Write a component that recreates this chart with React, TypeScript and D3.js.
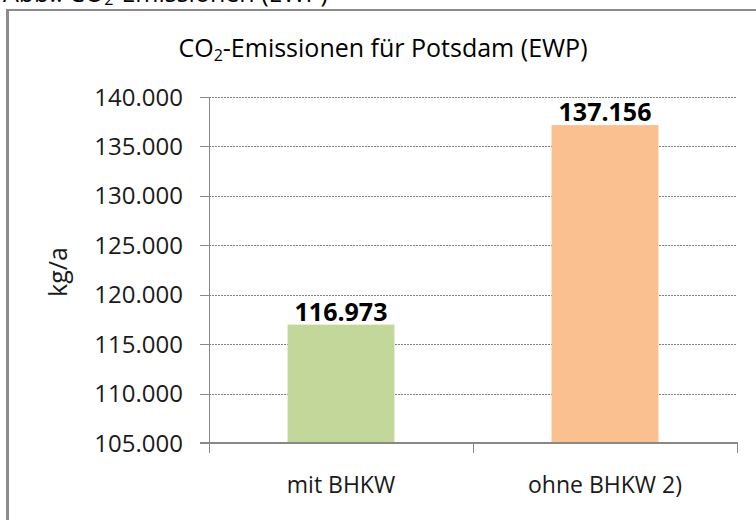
import React from 'react';
import * as d3 from 'd3';

const categories = ["mit BHKW", "ohne BHKW 2)"];
const values = [116973, 137156];
const barColors = ["#c4d79b", "#fac090"];
const yTicks = [105000, 110000, 115000, 120000, 125000, 130000, 135000, 140000];

const W = 756, H = 520;
const plot = { left: 209, right: 737, top: 97, bottom: 443 };
const font = "'Open Sans', sans-serif";

const de = d3.formatLocale({ decimal: ",", thousands: ".", grouping: [3], currency: ["", " €"] });
const fmt = de.format(",d");

const App = () => {
    const x = d3.scaleBand<string>()
        .domain(categories)
        .range([plot.left, plot.right])
        .paddingInner(0.595)
        .paddingOuter(0.2975);

    const y = d3.scaleLinear()
        .domain([105000, 140000])
        .range([plot.bottom, plot.top]);

    // category boundaries for the x-axis ticks
    const xBounds = d3.range(categories.length + 1).map((i) => plot.left + i * (plot.right - plot.left) / categories.length);

    return (
        <svg width={W} height={H} style={{ position: 'absolute', left: 0, top: 0, background: '#fff' }}
            fontFamily={font}>
            {/* caption above the frame, cut off by the page top */}
            <text x={3} y={1.5} fontSize={25} fill="#000">
                Abb.: CO<tspan fontSize={16} dy={3}>2</tspan><tspan dy={-3}>-Emissionen (EWP)</tspan>
            </text>
            {/* chart frame */}
            <line x1={7.5} x2={W} y1={10} y2={10} stroke="#8c8c8c" strokeWidth={2} />
            <line x1={7.5} x2={7.5} y1={9} y2={H} stroke="#8c8c8c" strokeWidth={3} />

            {/* title */}
            <text x={383} y={57} textAnchor="middle" fontSize={25} fill="#000">
                CO<tspan fontSize={16} dy={4}>2</tspan><tspan dy={-4}>-Emissionen für Potsdam (EWP)</tspan>
            </text>

            {/* gridlines */}
            {yTicks.slice(1).map((t) => (
                <line key={t} x1={plot.left} x2={plot.right} y1={Math.round(y(t)) + 0.5} y2={Math.round(y(t)) + 0.5}
                    stroke="#808080" strokeWidth={1} strokeDasharray="2,1" />
            ))}

            {/* bars */}
            {values.map((v, i) => (
                <g key={categories[i]}>
                    <rect x={x(categories[i])} y={y(v)} width={x.bandwidth()} height={plot.bottom - y(v)}
                        fill={barColors[i]} />
                    <text x={(x(categories[i]) ?? 0) + x.bandwidth() / 2} y={y(v) - 4} textAnchor="middle"
                        fontSize={25} fontWeight="bold" fill="#000">{fmt(v)}</text>
                </g>
            ))}

            {/* y axis */}
            <line x1={plot.left + 0.5} x2={plot.left + 0.5} y1={plot.top} y2={plot.bottom + 10} stroke="#888" />
            {yTicks.map((t) => (
                <g key={t}>
                    <line x1={plot.left - 9} x2={plot.left} y1={Math.round(y(t)) + 0.5} y2={Math.round(y(t)) + 0.5} stroke="#888" />
                    <text x={183} y={y(t) + 8.5} textAnchor="end" fontSize={24} fill="#1a1a1a">{fmt(t)}</text>
                </g>
            ))}

            {/* x axis */}
            <line x1={plot.left - 9} x2={plot.right + 1} y1={plot.bottom} y2={plot.bottom} stroke="#888" strokeWidth={2} />
            {xBounds.map((b, i) => (
                <line key={i} x1={b + 0.5} x2={b + 0.5} y1={plot.bottom} y2={plot.bottom + 10} stroke="#888" />
            ))}
            {categories.map((c) => (
                <text key={c} x={(x(c) ?? 0) + x.bandwidth() / 2} y={493} textAnchor="middle" fontSize={23} fill="#1a1a1a">{c}</text>
            ))}

            {/* y axis title */}
            <text transform={`translate(67,272) rotate(-90)`} textAnchor="middle" fontSize={25} fill="#1a1a1a">kg/a</text>
        </svg>
    );
};

export default App;
